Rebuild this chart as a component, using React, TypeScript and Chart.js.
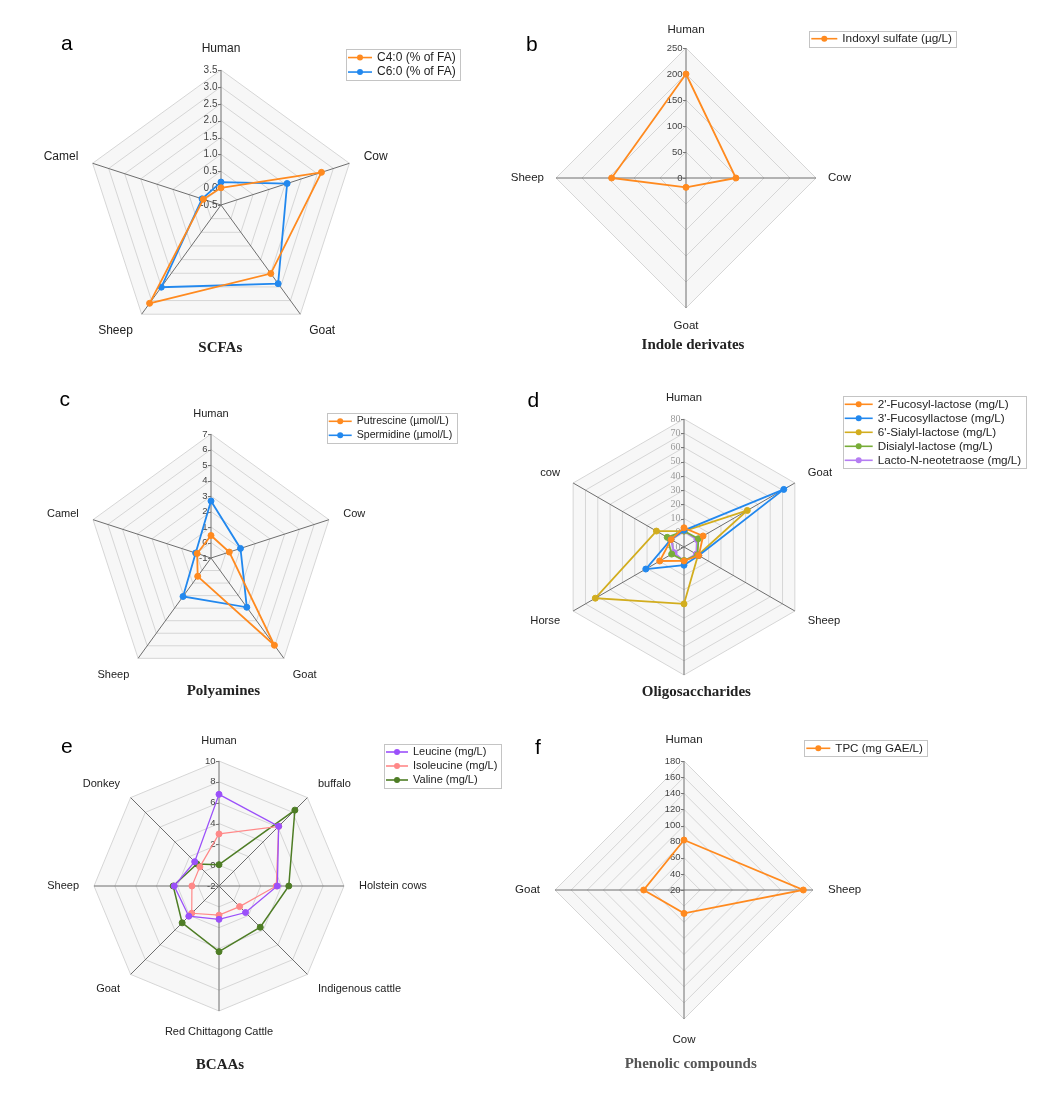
import React, { useEffect, useRef } from 'react';
import { Chart, registerables } from 'chart.js';

Chart.register(...registerables);

const SANS = '"Liberation Sans", Arial, Helvetica, sans-serif';
const SERIF = '"Liberation Serif", "Times New Roman", serif';

// ---------------- data ----------------
const scfaLabels = ['Human', 'Cow', 'Goat', 'Sheep', 'Camel'];
const c4Values = [0.01, 2.63, 2.01, 3.1, 0.05];
const c6Values = [0.18, 1.56, 2.38, 2.51, 0.09];
const scfaRange = [-0.5, 3.5, 0.5];

const indoleLabels = ['Human', 'Cow', 'Goat', 'Sheep'];
const indoxylValues = [200, 96, 18, 143];
const indoleRange = [0, 250, 50];

const polyLabels = ['Human', 'Cow', 'Goat', 'Sheep', 'Camel'];
const putrescineValues = [0.45, 0.24, 5.96, 0.46, -0.06];
const spermidineValues = [2.68, 1.0, 2.93, 2.07, 0.04];
const polyRange = [-1, 7, 1];

const oligoLabels = ['Human', 'Goat', 'Sheep', '', 'Horse', 'cow'];
const fl2Values = [3.5, 5.5, 2, -0.2, 9.7, 0.5];
const fl3Values = [1.7, 71, 2, 2.8, 21, 0.6];
const sl6Values = [1.2, 41.4, 1.4, 30, 62, 12.4];
const dslValues = [1.2, 1.7, 1, -0.5, 0, 3.6];
const lnntValues = [1.2, 0.5, 0, -0.2, -2, 0.6];
const oligoRange = [-10, 80, 10];

const bcaaLabels = ['Human', 'buffalo', 'Holstein cows', 'Indigenous cattle', 'Red Chittagong Cattle', 'Goat', 'Sheep', 'Donkey'];
const leucineValues = [6.8, 6.1, 3.6, 1.6, 1.2, 2.1, 2.3, 1.3];
const isoleucineValues = [3.0, 6.1, 3.5, 0.8, 0.8, 1.7, 0.6, 0.6];
const valineValues = [0.05, 8.3, 4.7, 3.6, 4.3, 3.0, 2.4, 1.0];
const bcaaRange = [-2, 10, 2];

const phenolLabels = ['Human', 'Sheep', 'Cow', 'Goat'];
const tpcValues = [82, 168, 49, 70];
const phenolRange = [20, 180, 20];

// ---------------- colours ----------------
const ORANGE = '#ff8a1f';
const BLUE = '#2288ee';
const YELLOW = '#d2ad1e';
const GREEN = '#78ad38';
const PURPLE = '#b57df2';
const VIOLET = '#9b50fa';
const PINK = '#ff8888';
const DKGREEN = '#4e7d25';

type Series = { label: string; data: number[]; color: string; width?: number };
type PanelCfg = {
  box: { x: number; y: number; w: number; h: number };
  cx: number; cy: number; R: number;
  labels: string[];
  range: number[];
  decimals: number;
  series: Series[];
  labelFont: number;
  labelGap: number;
  tickFont: string;
  tickColor: string;
  legend: { x: number; y: number; font: number; rowH: number; lineLen: number };
  letter: { text: string; x: number; y: number };
  title: { text: string; x: number; y: number; color: string };
};

const panels: PanelCfg[] = [
  {
    box: { x: 0, y: 0, w: 524, h: 362 },
    cx: 221.7, cy: 205.8, R: 135,
    labels: scfaLabels, range: scfaRange, decimals: 1,
    series: [
      { label: 'C4:0 (% of FA)', data: c4Values, color: ORANGE },
      { label: 'C6:0 (% of FA)', data: c6Values, color: BLUE },
    ],
    labelFont: 12, labelGap: 15, tickFont: `10px ${SANS}`, tickColor: '#444',
    legend: { x: 346, y: 49.3, font: 12, rowH: 14.5, lineLen: 24 },
    letter: { text: 'a', x: 61, y: 50 },
    title: { text: 'SCFAs', x: 220.3, y: 348.3, color: '#222' },
  },
  {
    box: { x: 480, y: 0, w: 568, h: 362 },
    cx: 686.3, cy: 178.3, R: 130,
    labels: indoleLabels, range: indoleRange, decimals: 0,
    series: [{ label: 'Indoxyl sulfate (\u00b5g/L)', data: indoxylValues, color: ORANGE }],
    labelFont: 11.5, labelGap: 12, tickFont: `9.5px ${SANS}`, tickColor: '#444',
    legend: { x: 809.3, y: 30.7, font: 11.8, rowH: 14, lineLen: 26 },
    letter: { text: 'b', x: 526, y: 50.7 },
    title: { text: 'Indole derivates', x: 693, y: 345, color: '#222' },
  },
  {
    box: { x: 0, y: 362, w: 524, h: 350 },
    cx: 211.7, cy: 558.2, R: 124.7,
    labels: polyLabels, range: polyRange, decimals: 0,
    series: [
      { label: 'Putrescine (\u00b5mol/L)', data: putrescineValues, color: ORANGE },
      { label: 'Spermidine (\u00b5mol/L)', data: spermidineValues, color: BLUE },
    ],
    labelFont: 11, labelGap: 15, tickFont: `9.5px ${SANS}`, tickColor: '#444',
    legend: { x: 326.7, y: 413.3, font: 10.6, rowH: 14, lineLen: 23 },
    letter: { text: 'c', x: 59.5, y: 406 },
    title: { text: 'Polyamines', x: 223.3, y: 690.7, color: '#222' },
  },
  {
    box: { x: 480, y: 362, w: 568, h: 350 },
    cx: 684.3, cy: 547, R: 128.5,
    labels: oligoLabels, range: oligoRange, decimals: 0,
    series: [
      { label: "2'-Fucosyl-lactose (mg/L)", data: fl2Values, color: ORANGE },
      { label: "3'-Fucosyllactose (mg/L)", data: fl3Values, color: BLUE },
      { label: "6'-Sialyl-lactose (mg/L)", data: sl6Values, color: YELLOW },
      { label: 'Disialyl-lactose (mg/L)', data: dslValues, color: GREEN },
      { label: 'Lacto-N-neotetraose (mg/L)', data: lnntValues, color: PURPLE },
    ],
    labelFont: 11.2, labelGap: 15, tickFont: `10px ${SERIF}`, tickColor: '#999',
    legend: { x: 842.7, y: 396.3, font: 11.7, rowH: 14, lineLen: 28 },
    letter: { text: 'd', x: 527.5, y: 406.7 },
    title: { text: 'Oligosaccharides', x: 696.3, y: 692.3, color: '#222' },
  },
  {
    box: { x: 0, y: 712, w: 524, h: 386 },
    cx: 219.5, cy: 886.7, R: 125.5,
    labels: bcaaLabels, range: bcaaRange, decimals: 0,
    series: [
      { label: 'Leucine (mg/L)', data: leucineValues, color: VIOLET, width: 1.3 },
      { label: 'Isoleucine (mg/L)', data: isoleucineValues, color: PINK, width: 1.2 },
      { label: 'Valine (mg/L)', data: valineValues, color: DKGREEN, width: 1.5 },
    ],
    labelFont: 11, labelGap: 15, tickFont: `9.5px ${SANS}`, tickColor: '#444',
    legend: { x: 384, y: 744, font: 11, rowH: 14, lineLen: 22 },
    letter: { text: 'e', x: 61, y: 753.3 },
    title: { text: 'BCAAs', x: 220, y: 1065, color: '#222' },
  },
  {
    box: { x: 480, y: 712, w: 568, h: 386 },
    cx: 684.5, cy: 890, R: 129,
    labels: phenolLabels, range: phenolRange, decimals: 0,
    series: [{ label: 'TPC (mg GAE/L)', data: tpcValues, color: ORANGE }],
    labelFont: 11.5, labelGap: 15, tickFont: `9.5px ${SANS}`, tickColor: '#444',
    legend: { x: 804.3, y: 740.3, font: 11.6, rowH: 14, lineLen: 24 },
    letter: { text: 'f', x: 535, y: 754 },
    title: { text: 'Phenolic compounds', x: 690.7, y: 1064, color: '#555' },
  },
];

function makeDeco(cfg: PanelCfg) {
  const ox = cfg.box.x;
  const oy = cfg.box.y;
  return {
    id: 'deco',
    beforeDatasetsDraw(chart: any) {
      const ctx = chart.ctx as CanvasRenderingContext2D;
      const s = chart.scales.r;
      ctx.save();
      ctx.font = cfg.tickFont;
      ctx.fillStyle = cfg.tickColor;
      ctx.strokeStyle = '#777';
      ctx.lineWidth = 1;
      ctx.textAlign = 'right';
      ctx.textBaseline = 'middle';
      s.ticks.forEach((t: any) => {
        const d = s.getDistanceFromCenterForValue(t.value);
        const y = s.yCenter - d;
        const txt = cfg.decimals > 0 ? Number(t.value).toFixed(cfg.decimals) : String(Math.round(t.value));
        ctx.fillText(txt, s.xCenter - 3.5, y);
        ctx.beginPath();
        ctx.moveTo(s.xCenter - 3, Math.round(y) + 0.5);
        ctx.lineTo(s.xCenter, Math.round(y) + 0.5);
        ctx.stroke();
      });
      ctx.restore();
    },
    afterDraw(chart: any) {
      const ctx = chart.ctx as CanvasRenderingContext2D;
      const s = chart.scales.r;
      ctx.save();
      // point labels
      ctx.font = `${cfg.labelFont}px ${SANS}`;
      ctx.fillStyle = '#222';
      (chart.data.labels as string[]).forEach((lab, i) => {
        const p = s.getPointPosition(i, s.drawingArea + cfg.labelGap);
        const cos = Math.cos(p.angle);
        const sin = Math.sin(p.angle);
        ctx.textAlign = Math.abs(cos) < 0.05 ? 'center' : cos > 0 ? 'left' : 'right';
        let y = p.y;
        if (sin < -0.95) ctx.textBaseline = 'bottom';
        else if (sin > 0.95) ctx.textBaseline = 'top';
        else { ctx.textBaseline = 'middle'; y += sin * 5; }
        ctx.fillText(lab, p.x, y);
      });
      // legend
      const L = cfg.legend;
      const lx = L.x - ox;
      const ly = L.y - oy;
      ctx.font = `${L.font}px ${SANS}`;
      const items = chart.data.datasets.map((d: any) => ({ text: d.label, color: d.borderColor }));
      const maxW = Math.max(...items.map((it: any) => ctx.measureText(it.text).width));
      const w = 2 + L.lineLen + 5 + maxW + 4;
      const h = items.length * L.rowH + 2;
      ctx.fillStyle = '#ffffff';
      ctx.fillRect(lx, ly, w, h);
      ctx.strokeStyle = '#c4c4c4';
      ctx.lineWidth = 1;
      ctx.strokeRect(Math.round(lx) + 0.5, Math.round(ly) + 0.5, Math.round(w), Math.round(h));
      items.forEach((it: any, i: number) => {
        const yy = ly + 1 + L.rowH * (i + 0.5);
        ctx.strokeStyle = it.color;
        ctx.lineWidth = 1.6;
        ctx.beginPath();
        ctx.moveTo(lx + 2, yy);
        ctx.lineTo(lx + 2 + L.lineLen, yy);
        ctx.stroke();
        ctx.fillStyle = it.color;
        ctx.beginPath();
        ctx.arc(lx + 2 + L.lineLen / 2, yy, 3, 0, Math.PI * 2);
        ctx.fill();
        ctx.fillStyle = '#222';
        ctx.textAlign = 'left';
        ctx.textBaseline = 'middle';
        ctx.fillText(it.text, lx + 2 + L.lineLen + 5, yy);
      });
      // panel letter
      ctx.font = `21px ${SANS}`;
      ctx.fillStyle = '#000';
      ctx.textAlign = 'left';
      ctx.textBaseline = 'alphabetic';
      ctx.fillText(cfg.letter.text, cfg.letter.x - ox, cfg.letter.y - oy);
      // panel title
      ctx.font = `bold 15px ${SERIF}`;
      ctx.fillStyle = cfg.title.color;
      ctx.textAlign = 'center';
      ctx.textBaseline = 'middle';
      ctx.fillText(cfg.title.text, cfg.title.x - ox, cfg.title.y - oy);
      ctx.restore();
    },
  };
}

function RadarPanel({ cfg }: { cfg: PanelCfg }) {
  const ref = useRef<HTMLCanvasElement>(null);
  useEffect(() => {
    const b = cfg.box;
    const [min, max, step] = cfg.range;
    const chart = new Chart(ref.current as HTMLCanvasElement, {
      type: 'radar',
      data: {
        labels: cfg.labels,
        datasets: cfg.series.map((s) => ({
          label: s.label,
          data: s.data,
          borderColor: s.color,
          backgroundColor: s.color,
          pointBackgroundColor: s.color,
          pointBorderColor: s.color,
          pointRadius: 3,
          pointBorderWidth: 1,
          borderWidth: s.width ?? 1.8,
          fill: false,
          tension: 0,
        })),
      },
      options: {
        responsive: false,
        animation: false,
        devicePixelRatio: 1,
        layout: {
          padding: {
            left: cfg.cx - cfg.R - b.x,
            right: b.x + b.w - cfg.cx - cfg.R,
            top: cfg.cy - cfg.R - b.y,
            bottom: b.y + b.h - cfg.cy - cfg.R,
          },
        },
        plugins: { legend: { display: false }, tooltip: { enabled: false }, title: { display: false } },
        scales: {
          r: {
            min,
            max,
            beginAtZero: false,
            startAngle: 0,
            ticks: { display: false, stepSize: step },
            pointLabels: { display: false },
            grid: { color: '#d6d6d6', lineWidth: 1 },
            angleLines: { color: '#6e6e6e', lineWidth: 1 },
            backgroundColor: '#f7f7f7',
          } as any,
        },
      } as any,
      plugins: [makeDeco(cfg) as any],
    });
    return () => chart.destroy();
  }, []);
  const b = cfg.box;
  return (
    <canvas
      ref={ref}
      width={b.w}
      height={b.h}
      style={{ position: 'absolute', left: b.x, top: b.y, width: b.w, height: b.h }}
    />
  );
}

export default function App() {
  return (
    <div style={{ position: 'absolute', left: 0, top: 0, width: 1048, height: 1098, background: '#fff' }}>
      {panels.map((p, i) => (
        <RadarPanel key={i} cfg={p} />
      ))}
    </div>
  );
}
